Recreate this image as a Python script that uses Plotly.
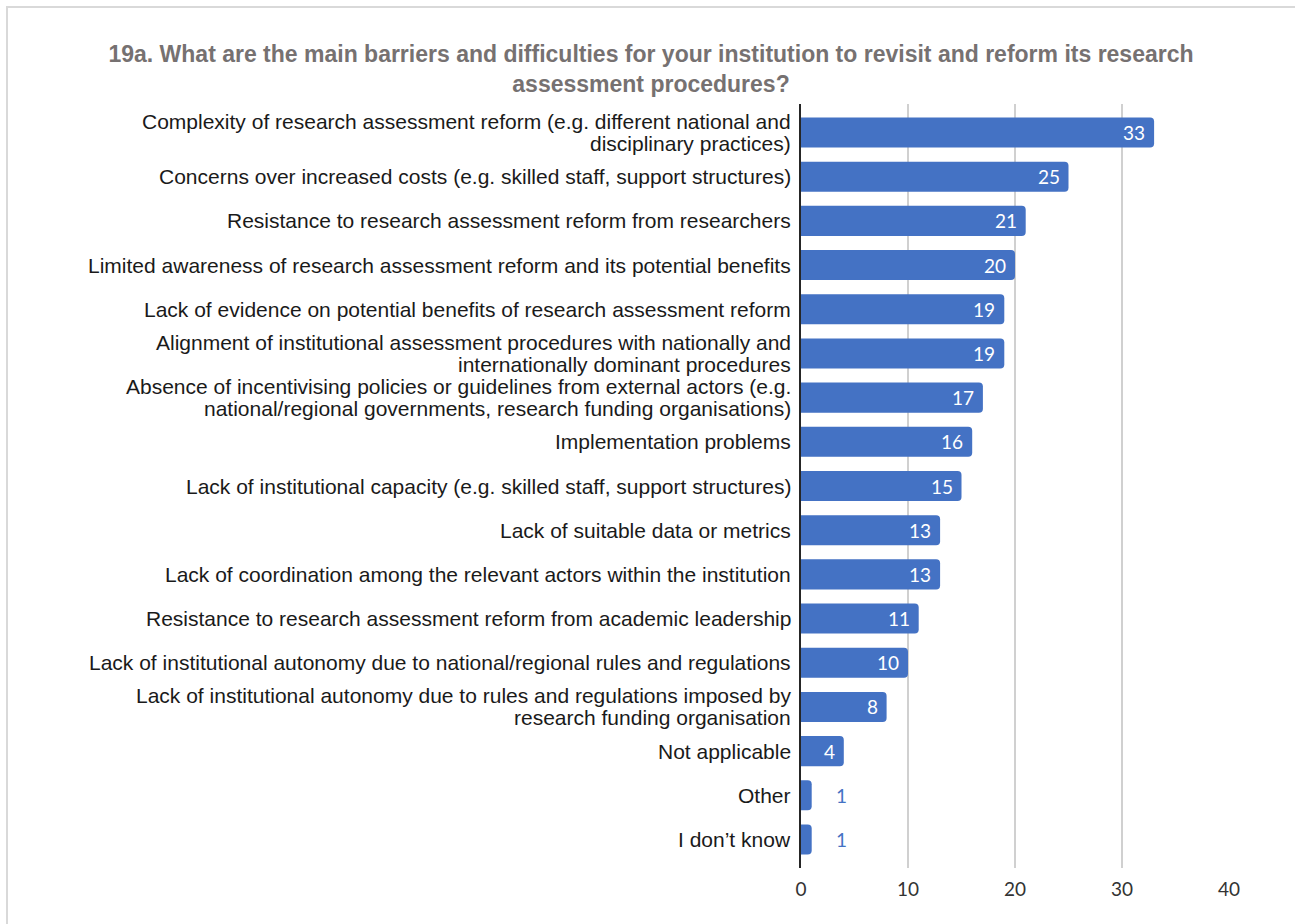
import plotly.graph_objects as go

# Survey question 19a: barriers to reforming research assessment
labels = [
    ["Complexity of research assessment reform (e.g. different national and", "disciplinary practices)"],
    ["Concerns over increased costs (e.g. skilled staff, support structures)"],
    ["Resistance to research assessment reform from researchers"],
    ["Limited awareness of research assessment reform and its potential benefits"],
    ["Lack of evidence on potential benefits of research assessment reform"],
    ["Alignment of institutional assessment procedures with nationally and", "internationally dominant procedures"],
    ["Absence of incentivising policies or guidelines from external actors (e.g.", "national/regional governments, research funding organisations)"],
    ["Implementation problems"],
    ["Lack of institutional capacity (e.g. skilled staff, support structures)"],
    ["Lack of suitable data or metrics"],
    ["Lack of coordination among the relevant actors within the institution"],
    ["Resistance to research assessment reform from academic leadership"],
    ["Lack of institutional autonomy due to national/regional rules and regulations"],
    ["Lack of institutional autonomy due to rules and regulations imposed by", "research funding organisation"],
    ["Not applicable"],
    ["Other"],
    ["I don\u2019t know"],
]
categories = [" ".join(parts) for parts in labels]
counts = [33, 25, 21, 20, 19, 19, 17, 16, 15, 13, 13, 11, 10, 8, 4, 1, 1]
x_ticks = [0, 10, 20, 30, 40]
title_text = (
    "19a. What are the main barriers and difficulties for your institution to revisit and reform its research"
    "<br>assessment procedures?"
)

BLUE = "#4472C4"
LABEL_FONT = "Liberation Sans, Arial, sans-serif"
NUM_FONT = "Lato, Open Sans, sans-serif"
W, H = 1295, 924
L, R, T, B = 801, 66, 104, 56
pw, ph = W - L - R, H - T - B

fig = go.Figure(
    go.Bar(
        y=categories,
        x=counts,
        orientation="h",
        marker=dict(color=BLUE, line=dict(width=0)),
        width=0.68,
        hoverinfo="x+y",
    )
)

# category labels, right-aligned against the axis with tight line spacing
for cat, parts in zip(categories, labels):
    k = len(parts)
    for i, line in enumerate(parts):
        fig.add_annotation(
            x=0, xref="paper", y=cat, yref="y",
            text=line, showarrow=False,
            xanchor="right", yanchor="middle",
            xshift=-8, yshift=(k - 1) * 11 - i * 22,
            font=dict(family=LABEL_FONT, size=21, color="#1a1a1a"),
        )

# value labels: white inside the bar end, blue just past very short bars
for cat, v in zip(categories, counts):
    inside = v >= 4
    fig.add_annotation(
        x=v, y=cat, xref="x", yref="y",
        text=str(v), showarrow=False,
        xanchor="right" if inside else "left",
        xshift=-7 if inside else 22,
        font=dict(family=NUM_FONT, size=19, color="white" if inside else BLUE),
    )

# light frame around the chart area
fig.add_shape(
    type="rect", xref="paper", yref="paper",
    x0=(7 - L) / pw, x1=(W + 10 - L) / pw,
    y0=(H - B - (H + 10)) / ph, y1=(H - B - 7) / ph,
    line=dict(color="#D9D9D9", width=2), fillcolor="rgba(0,0,0,0)",
    layer="below",
)

n = len(categories)
pad = 0.145
fig.update_layout(
    width=W, height=H,
    margin=dict(l=L, r=R, t=T, b=B),
    paper_bgcolor="white", plot_bgcolor="white",
    showlegend=False,
    barcornerradius=4,
    title=dict(
        text=f"<b>{title_text}</b>",
        x=651 / W, xanchor="center", xref="container",
        y=1 - 62 / H, yanchor="middle", yref="container",
        font=dict(family=LABEL_FONT, size=23, color="#767171"),
    ),
    xaxis=dict(
        range=[0, 40], tickvals=x_ticks, ticktext=[str(t) for t in x_ticks],
        showgrid=True, gridcolor="#D0D0D0", gridwidth=2,
        zeroline=False, showline=False, ticks="",
        ticklabelstandoff=8,
        tickfont=dict(family=NUM_FONT, size=19, color="#333333"),
        fixedrange=True,
    ),
    yaxis=dict(
        type="category",
        categoryorder="array", categoryarray=categories,
        range=[n - 0.5 + pad, -0.5 - pad],
        showline=True, linecolor="#262626", linewidth=2,
        showgrid=False, zeroline=False, ticks="",
        showticklabels=False,
        fixedrange=True,
    ),
)

fig.write_html("out.html")
